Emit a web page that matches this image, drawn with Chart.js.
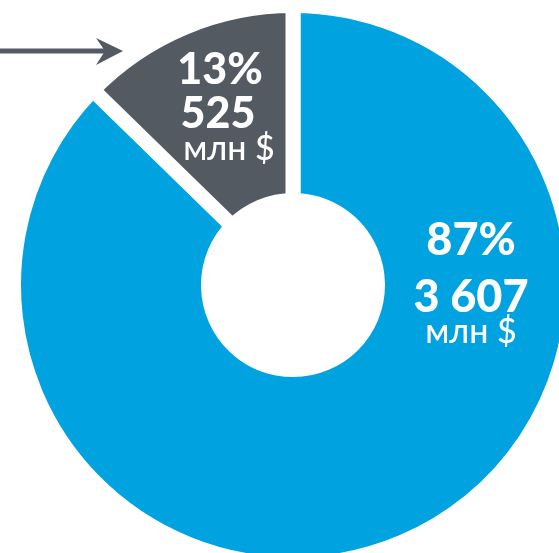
<!DOCTYPE html>
<html><head><meta charset="utf-8">
<script src="https://cdn.jsdelivr.net/npm/chart.js@4"></script>
<style>html,body{margin:0;padding:0;background:#fff;overflow:hidden}#wrap{position:relative;width:559px;height:553px}</style>
</head><body><div id="wrap"><canvas id="c" width="559" height="553"></canvas></div>
<script>
// ---- data ----
const categories = ['3 607 млн $', '525 млн $'];
const values = [3607, 525];
const shareLabels = ['87%', '13%'];
const amountLabels = ['3 607', '525'];
const unitLabel = 'млн $';
const colors = ['#00a3e0', '#545a62'];

// label placement relative to chart centre (styling only)
const labelLayout = [
  {lines: [{t: shareLabels[0], dx: 178, dy: -30, f: '900 45px Lato'},
           {t: amountLabels[0], dx: 178, dy: 27, f: '900 45px Lato'},
           {t: unitLabel, dx: 178, dy: 58, f: '500 34px Lato'}]},
  {lines: [{t: shareLabels[1], dx: -73, dy: -201, f: '900 43px Lato'},
           {t: amountLabels[1], dx: -75, dy: -157, f: '900 43px Lato'},
           {t: unitLabel, dx: -64, dy: -125, f: '500 34px Lato'}]}
];

const labelPlugin = {
  id: 'sliceLabels',
  afterDatasetsDraw(chart) {
    const ctx = chart.ctx;
    const arc = chart.getDatasetMeta(0).data[0];
    const cx = arc.x, cy = arc.y;
    ctx.save();
    ctx.fillStyle = '#ffffff';
    ctx.textAlign = 'center';
    ctx.textBaseline = 'alphabetic';
    labelLayout.forEach(block => block.lines.forEach(l => {
      ctx.font = l.f;
      ctx.fillText(l.t, cx + l.dx, cy + l.dy);
    }));
    ctx.restore();
  }
};

const arrowPlugin = {
  id: 'arrow',
  afterDraw(chart) {
    const ctx = chart.ctx;
    ctx.save();
    ctx.strokeStyle = '#545a62';
    ctx.fillStyle = '#545a62';
    ctx.lineWidth = 5;
    ctx.beginPath();
    ctx.moveTo(0, 51);
    ctx.lineTo(107, 51);
    ctx.stroke();
    ctx.beginPath();
    ctx.moveTo(123, 51);
    ctx.lineTo(96, 38);
    ctx.lineTo(105, 51);
    ctx.lineTo(96, 65);
    ctx.closePath();
    ctx.fill();
    ctx.restore();
  }
};

new Chart(document.getElementById('c'), {
  type: 'doughnut',
  data: {
    labels: categories,
    datasets: [{
      data: values,
      backgroundColor: colors,
      borderColor: '#ffffff',
      borderWidth: 15,
      borderAlign: 'center',
      hoverOffset: 0,
      clip: false
    }]
  },
  options: {
    responsive: false,
    animation: false,
    events: [],
    devicePixelRatio: 1,
    radius: 279.5,
    cutout: '30.23%',
    rotation: 0,
    layout: {padding: {left: 27, top: 17, right: 0, bottom: 0}},
    plugins: {legend: {display: false}, tooltip: {enabled: false}, title: {display: false}}
  },
  plugins: [labelPlugin, arrowPlugin]
});
</script>
</body></html>
